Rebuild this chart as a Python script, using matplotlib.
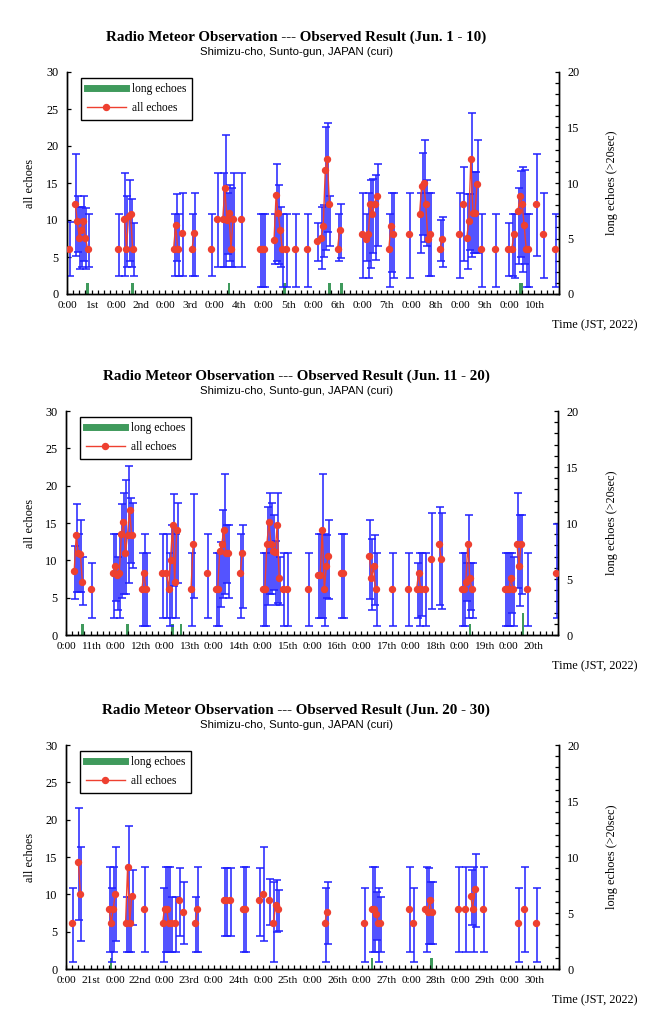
"""Radio meteor observation, June 2022: hourly echo counts in three 10-day panels."""

import matplotlib

matplotlib.use("Agg")

import matplotlib.pyplot as plt
from matplotlib.lines import Line2D
from matplotlib.ticker import MultipleLocator

SERIF = "Liberation Serif"
SANS = "Liberation Sans"

RED = "#ee4030"
BLUE = "#2020ff"
GREEN = "#3f9a5c"

# --- Jun. 1 - 10 (hours counted from Jun. 1 0:00) ---
P1_HOURS = [1, 4, 5, 6, 7, 8, 9, 10,
            25, 28, 29, 30, 31, 32,
            52, 53, 54, 56, 61, 62, 70,
            73, 76, 77, 78, 79, 80, 81, 85,
            94, 95, 96, 101, 102, 103, 104, 105, 107, 111, 117,
            122, 124, 125, 126, 127, 128, 132, 133,
            144, 146, 147, 148, 149, 150, 151, 157, 158, 159, 167,
            172, 173, 174, 175, 176, 177, 182, 183, 191,
            193, 195, 196, 197, 198, 199, 200, 202, 209,
            215, 217, 218, 220, 221, 222, 223, 224, 225, 229, 232, 238]
P1_ALL = [6.1, 12.2, 9.9, 7.6, 8.7, 9.9, 7.6, 6.1,
          6.1, 10.2, 6.1, 10.5, 10.8, 6.1,
          6.1, 9.3, 6.1, 8.2, 6.1, 8.2, 6.1,
          10.2, 10.2, 14.3, 10.0, 10.9, 6.1, 10.2, 10.2,
          6.1, 6.1, 6.1, 7.3, 13.4, 10.9, 8.7, 6.1, 6.1, 6.1, 6.1,
          7.2, 7.6, 9.2, 16.8, 18.3, 12.2, 6.1, 8.7,
          8.1, 7.4, 8.1, 12.2, 10.8, 12.2, 13.3, 6.1, 9.2, 8.1, 8.1,
          10.8, 14.6, 15.0, 12.2, 7.4, 8.1, 6.1, 7.4, 8.1,
          12.2, 7.6, 9.8, 18.3, 10.9, 10.9, 14.9, 6.1, 6.1,
          6.1, 6.1, 8.1, 11.2, 13.3, 12.2, 9.3, 6.1, 6.1, 12.2, 8.1, 6.1]
P1_LOW = [2.4, 5.1, 5.7, 3.4, 3.7, 4.4, 3.4, 3.7,
          2.4, 2.4, 3.7, 4.4, 3.7, 2.4,
          2.4, 4.4, 2.4, 2.4, 2.4, 2.4, 2.4,
          3.7, 3.7, 3.7, 5.4, 4.4, 3.7, 3.7, 3.7,
          1.0, 1.0, 1.0, 4.0, 4.4, 4.0, 3.7, 1.0, 1.0, 1.0, 1.0,
          4.4, 3.4, 5.0, 6.0, 8.4, 6.5, 4.4, 4.9,
          2.1, 4.4, 2.1, 3.5, 5.6, 4.6, 6.5, 1.0, 3.0, 2.1, 2.1,
          5.6, 8.0, 7.0, 6.5, 2.4, 2.4, 4.4, 3.7, 2.1,
          4.4, 3.4, 6.0, 5.0, 5.5, 5.5, 5.5, 1.0, 1.0,
          2.4, 2.4, 2.1, 4.0, 5.0, 3.0, 4.0, 1.0, 1.0, 5.1, 2.1, 1.0]
P1_HIGH = [9.7, 18.9, 13.3, 11.8, 11.8, 13.3, 11.6, 10.8,
           10.8, 16.3, 13.3, 15.4, 12.8, 9.6,
           10.8, 13.5, 10.8, 13.7, 10.8, 13.7, 10.8,
           16.3, 16.3, 21.5, 13.7, 14.7, 14.3, 16.3, 16.3,
           10.8, 10.8, 10.8, 10.8, 17.6, 14.7, 11.8, 10.8, 10.8, 10.8, 10.8,
           9.6, 11.8, 12.0, 22.6, 23.1, 13.3, 10.8, 12.1,
           13.7, 10.8, 13.7, 15.4, 15.5, 16.1, 17.6, 10.8, 13.7, 13.7, 13.7,
           13.7, 19.0, 20.8, 15.4, 13.7, 13.7, 10.0, 10.4, 13.7,
           17.2, 13.5, 13.5, 24.4, 16.5, 16.5, 20.8, 10.8, 10.8,
           9.6, 10.8, 10.8, 14.3, 16.6, 17.2, 16.8, 10.8, 10.8, 18.9, 13.7, 10.8]
P1_LONG_HOURS = [10, 32, 79, 106, 128, 134, 221, 222]
P1_LONG = [1, 1, 1, 1, 1, 1, 1, 1]

# --- Jun. 11 - 20 ---
P2_HOURS = [4, 5, 6, 7, 8, 12,
            23, 24, 25, 26, 27, 28, 29, 30, 31, 32,
            37, 38, 39, 47, 49, 50, 51, 52, 53, 54, 61, 62, 69,
            73, 74, 75, 76, 77, 78, 79, 85, 86,
            96, 97, 98, 99, 100, 101, 102, 103, 104, 106, 108, 118,
            123, 124, 125, 126, 127, 128, 134, 135,
            148, 149, 150, 151, 159, 167, 171, 172, 173, 175,
            178, 182, 183,
            193, 194, 195, 196, 197, 198,
            214, 215, 216, 217, 218, 220, 221, 222, 225, 239]
P2_ALL = [8.6, 13.4, 11.0, 10.8, 7.1, 6.1,
          8.3, 9.2, 8.0, 8.3, 13.5, 15.2, 11.0, 13.4, 16.7, 13.4,
          6.1, 8.3, 6.1, 8.3, 8.3, 6.1, 10.1, 14.7, 7.1, 14.1, 6.1, 12.2, 8.3,
          6.1, 6.1, 11.3, 12.2, 14.1, 11.0, 11.0, 8.3, 11.0,
          6.1, 6.1, 12.2, 15.2, 12.2, 11.3, 11.1, 14.7, 7.6, 6.1, 6.1, 6.1,
          8.1, 8.1, 14.1, 6.1, 9.2, 10.6, 8.3, 8.3,
          10.6, 7.6, 9.2, 6.1, 6.1, 6.1, 6.1, 8.3, 6.1, 6.1,
          10.2, 12.2, 10.2,
          6.1, 6.1, 7.1, 12.2, 7.6, 6.1,
          6.1, 6.1, 6.1, 7.6, 6.1, 12.2, 9.2, 12.2, 6.1, 8.3]
P2_LOW = [4.8, 5.7, 5.7, 5.7, 4.0, 2.3,
          2.3, 4.5, 3.4, 2.3, 5.0, 5.5, 5.5, 7.0, 9.6, 9.0,
          1.2, 1.2, 1.2, 2.3, 2.3, 1.2, 2.3, 6.5, 2.3, 7.0, 1.2, 4.9, 2.3,
          1.2, 1.2, 3.7, 5.0, 5.5, 7.0, 5.0, 2.3, 3.6,
          1.2, 1.2, 4.0, 5.5, 5.5, 6.0, 4.0, 4.3, 4.0, 1.2, 1.2, 1.2,
          2.3, 2.3, 2.3, 1.2, 4.9, 4.8, 2.3, 2.3,
          4.8, 3.4, 4.0, 1.2, 1.2, 1.2, 2.3, 1.2, 2.5, 1.2,
          3.5, 4.0, 3.5,
          1.2, 1.2, 4.5, 2.3, 3.4, 2.3,
          1.2, 1.2, 1.2, 3.0, 1.2, 6.3, 3.9, 5.5, 1.2, 2.3]
P2_HIGH = [11.9, 17.6, 13.5, 15.4, 10.5, 9.7,
           13.5, 13.5, 10.5, 13.5, 17.6, 19.0, 20.8, 22.6, 18.3, 17.7,
           11.0, 13.5, 11.0, 13.5, 13.5, 11.0, 14.7, 18.9, 13.5, 17.7, 11.0, 18.9, 13.5,
           11.0, 11.0, 12.5, 16.8, 21.5, 14.7, 14.7, 13.5, 14.7,
           11.0, 11.0, 17.2, 19.0, 17.7, 16.1, 12.6, 19.0, 10.5, 11.0, 11.0, 11.0,
           13.5, 13.5, 21.5, 13.5, 13.4, 15.4, 13.5, 13.5,
           15.4, 12.9, 13.4, 11.0, 11.0, 11.0, 9.7, 11.0, 11.0, 11.0,
           16.3, 17.2, 16.3,
           11.0, 11.0, 9.7, 16.1, 9.7, 9.7,
           11.0, 11.0, 11.0, 11.0, 10.5, 19.0, 16.1, 16.1, 11.0, 14.9]
P2_LONG_HOURS = [8, 30, 52, 56, 197, 223]
P2_LONG = [1, 1, 1, 1, 1, 2]

# --- Jun. 20 - 30 (axis starts Jun. 21 0:00) ---
P3_HOURS = [3, 6, 7,
            21, 22, 23, 24, 29, 30, 31, 32, 38,
            47, 48, 49, 50, 51, 53, 55, 57, 63, 64,
            77, 78, 80, 86, 87,
            94, 96, 99, 101, 102, 103,
            126, 127,
            145, 149, 150, 151, 152, 153, 167, 169,
            175, 176, 177, 178,
            191, 194, 197, 198, 199, 203,
            220, 223, 229]
P3_ALL = [6.1, 14.3, 10.1,
          8.1, 6.1, 8.1, 10.1, 6.1, 13.7, 6.1, 9.8, 8.1,
          6.1, 8.1, 8.1, 6.1, 6.1, 6.1, 9.3, 7.6, 6.1, 8.1,
          9.3, 9.3, 9.3, 8.1, 8.1,
          9.3, 10.1, 9.3, 6.1, 8.6, 8.1,
          6.1, 7.6,
          6.1, 8.1, 8.1, 7.4, 6.1, 6.1, 8.1, 6.1,
          8.1, 7.6, 9.3, 7.6,
          8.1, 8.1, 9.8, 8.1, 10.7, 8.1,
          6.1, 8.1, 6.1]
P3_LOW = [1.0, 6.5, 3.7,
          2.3, 1.0, 2.3, 3.7, 2.3, 2.3, 2.3, 5.9, 2.3,
          1.0, 2.3, 2.3, 2.3, 2.3, 2.3, 4.4, 3.4, 2.3, 2.3,
          4.4, 4.4, 4.4, 2.3, 2.3,
          4.4, 3.7, 5.9, 1.0, 5.0, 5.1,
          1.0, 3.4,
          1.0, 2.3, 2.3, 3.9, 1.0, 2.3, 2.3, 1.0,
          2.3, 3.3, 3.3, 3.4,
          2.3, 2.3, 5.9, 2.3, 5.6, 2.3,
          1.0, 2.3, 1.0]
P3_HIGH = [10.8, 21.5, 16.3,
           13.7, 10.8, 13.7, 16.3, 9.7, 19.1, 9.7, 13.3, 13.7,
           10.8, 13.7, 13.7, 13.7, 9.7, 9.7, 13.5, 11.6, 9.7, 13.7,
           13.5, 13.5, 13.5, 13.7, 13.7,
           13.5, 16.3, 12.1, 11.7, 11.9, 10.6,
           10.8, 11.6,
           10.8, 13.7, 13.7, 10.3, 10.8, 9.7, 13.7, 10.8,
           13.7, 13.5, 11.6, 11.6,
           13.7, 13.7, 13.3, 13.7, 15.4, 13.7,
           10.8, 13.7, 10.8]
P3_LONG_HOURS = [22, 149, 178]
P3_LONG = [1, 1, 1]

PANEL_TITLES = ["Jun. 1 - 10", "Jun. 11 - 20", "Jun. 20 - 30"]
FIRST_DAYS = [1, 11, 21]

# axes rectangles in figure pixels: left, top, right, bottom (654 x 1024)
FIG_W, FIG_H = 654, 1024
AXES_PX = [(67, 72, 559, 294), (66, 411, 558, 635), (66, 745, 559, 969)]

BAR_SHIFT = 0.5  # error bars sit a little right of the dots


def ordinal(day):
    if day % 100 in (11, 12, 13):
        return f"{day}th"
    return f"{day}" + {1: "st", 2: "nd", 3: "rd"}.get(day % 10, "th")


def runs(hours, values):
    """Split into runs of consecutive hours, so the line breaks at gaps."""
    start = 0
    for i in range(1, len(hours) + 1):
        if i == len(hours) or hours[i] - hours[i - 1] != 1:
            yield hours[start:i], values[start:i]
            start = i


def draw_panel(fig, box, period, first_day, hours, values, lows, highs,
               long_hours, long_counts):
    left, top, right, bottom = box
    rect = [left / FIG_W, 1 - bottom / FIG_H,
            (right - left) / FIG_W, (bottom - top) / FIG_H]
    ax = fig.add_axes(rect)
    ax2 = ax.twinx()
    ax.set_zorder(ax2.get_zorder() + 1)
    ax.patch.set_visible(False)

    # long echoes on the secondary axis
    ax2.bar(long_hours, long_counts, width=1.2, color=GREEN, zorder=1)
    ax2.set_ylim(0, 20)
    ax2.yaxis.set_major_locator(MultipleLocator(5))
    ax2.yaxis.set_minor_locator(MultipleLocator(1))

    lower = [v - lo for v, lo in zip(values, lows)]
    upper = [hi - v for v, hi in zip(values, highs)]
    ax.errorbar([h + BAR_SHIFT for h in hours], values, yerr=[lower, upper],
                fmt="none", ecolor=BLUE, elinewidth=1.1, capsize=3.0,
                capthick=1.1, zorder=2)
    for run_h, run_v in runs(hours, values):
        ax.plot(run_h, run_v, color=RED, lw=1.0, marker="o", ms=4.3,
                mec=RED, mfc=RED, zorder=3)

    ax.set_xlim(0, 240)
    ax.set_ylim(0, 30)
    ax.yaxis.set_major_locator(MultipleLocator(5))
    ticks = list(range(0, 240, 12))
    labels = []
    for i, _ in enumerate(ticks):
        labels.append("0:00" if i % 2 == 0 else ordinal(first_day + i // 2))
    ax.set_xticks(ticks)
    ax.set_xticklabels(labels)
    ax.xaxis.set_minor_locator(MultipleLocator(3))

    for a in (ax, ax2):
        a.spines["top"].set_visible(False)
        for side in ("left", "right", "bottom"):
            a.spines[side].set_linewidth(1.0)
        a.tick_params(which="both", direction="in", length=3, width=0.9,
                      labelsize=8.8)
        for lab in a.get_xticklabels() + a.get_yticklabels():
            lab.set_fontfamily(SERIF)
    ax.tick_params(axis="x", labelsize=8.2, pad=5)
    ax.tick_params(axis="y", pad=6)
    ax2.tick_params(axis="y", pad=6)

    handles = [
        Line2D([], [], color=GREEN, lw=5),
        Line2D([], [], color=RED, lw=1.0, marker="o", ms=4.3),
    ]
    leg = ax.legend(handles, ["long echoes", "all echoes"], loc="upper left",
                    bbox_to_anchor=(0.024, 0.985), frameon=True,
                    fancybox=False, edgecolor="black", framealpha=1,
                    prop={"family": SERIF, "size": 8.3}, handlelength=3.4,
                    borderpad=0.5, labelspacing=0.55, handletextpad=0.5,
                    borderaxespad=0.2)
    leg.get_frame().set_linewidth(1.0)

    cx = 296 / FIG_W
    fig.text(cx, 1 - (top - 35) / FIG_H,
             f"Radio Meteor Observation --- Observed Result ({period})",
             ha="center", va="center", family=SERIF, weight="bold",
             size=10.8)
    fig.text(cx, 1 - (top - 20) / FIG_H,
             "Shimizu-cho, Sunto-gun, JAPAN (curi)", ha="center",
             va="center", family=SANS, size=8.2)
    mid = 1 - (top + bottom) / 2 / FIG_H
    fig.text(30 / FIG_W, mid, "all echoes", rotation=90, ha="center",
             va="center", family=SERIF, size=8.8)
    fig.text(612 / FIG_W, mid, "long echoes (>20sec)", rotation=90,
             ha="center", va="center", family=SERIF, size=8.8)
    fig.text(637 / FIG_W, 1 - (bottom + 31) / FIG_H, "Time (JST, 2022)",
             ha="right", va="center", family=SERIF, size=8.8)


def main():
    fig = plt.figure(figsize=(FIG_W / 100, FIG_H / 100), dpi=100,
                     facecolor="white")
    panels = [
        (P1_HOURS, P1_ALL, P1_LOW, P1_HIGH, P1_LONG_HOURS, P1_LONG),
        (P2_HOURS, P2_ALL, P2_LOW, P2_HIGH, P2_LONG_HOURS, P2_LONG),
        (P3_HOURS, P3_ALL, P3_LOW, P3_HIGH, P3_LONG_HOURS, P3_LONG),
    ]
    for box, period, first_day, data in zip(AXES_PX, PANEL_TITLES,
                                            FIRST_DAYS, panels):
        draw_panel(fig, box, period, first_day, *data)
    fig.savefig("out.png", dpi=100, facecolor="white")
    plt.close(fig)


if __name__ == "__main__":
    main()
